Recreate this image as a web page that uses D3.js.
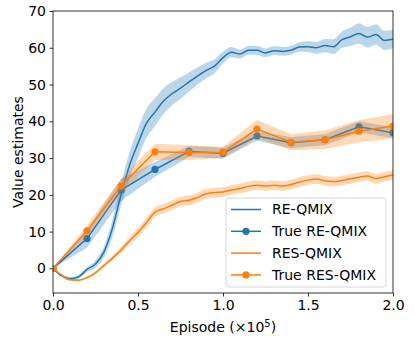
<!DOCTYPE html>
<html>
<head>
<meta charset="utf-8">
<script src="https://cdn.jsdelivr.net/npm/d3@7"></script>
<style>
  body { margin: 0; background: #fff; }
  text { font-family: "DejaVu Sans", sans-serif; }
</style>
</head>
<body>
<div id="chart"></div>
<script>
// episodes (x 10^5) for the smoothed curves
const episodes = [0.00,0.05,0.10,0.15,0.20,0.25,0.30,0.35,0.40,0.45,0.50,0.55,0.60,0.65,0.70,0.75,0.80,0.85,0.90,0.95,
  1.00,1.05,1.10,1.15,1.20,1.25,1.30,1.35,1.40,1.45,1.50,1.55,1.60,1.65,1.70,1.75,1.80,1.85,1.90,1.95,2.00];

const reQmix = [0,-2.0,-2.8,-2.3,-0.3,1.2,4.5,11,20,28,34,39.5,42.5,45.5,47.5,49,50.7,52.3,53.8,55,
  57.3,58.8,58.3,59.3,59.3,58.6,59.2,59.0,59.3,60.2,60.3,60.0,60.6,60.3,62.2,63.0,63.9,62.9,63.6,62.0,62.3];
const reQmixSd = [0,0.4,0.5,0.5,0.6,1.0,1.5,2.3,3,3.6,4,4,3.8,3.5,3.2,2.9,2.6,2.3,2.1,1.9,
  1.6,1.4,1.2,1.2,1.2,1.2,1.2,1.2,1.2,1.3,1.5,1.6,1.8,2.0,2.2,2.5,2.8,2.8,2.8,2.6,2.5];

const resQmix = [0,-1.8,-3.1,-3.2,-2.5,-1.2,0.8,2.8,5.0,7.5,9.8,12.5,15.3,16.2,17.2,18.2,18.5,19.3,20.3,20.6,
  20.8,21.3,21.7,22.3,22.6,22.4,22.6,22.4,22.8,23.5,24.0,24.3,23.8,23.6,23.9,24.4,24.8,25.1,24.4,24.9,25.4];
const resQmixSd = [0,0.2,0.3,0.3,0.3,0.4,0.5,0.6,0.8,1.0,1.2,1.3,1.3,1.3,1.3,1.3,1.3,1.3,1.3,1.3,
  1.3,1.3,1.3,1.3,1.3,1.3,1.3,1.3,1.3,1.3,1.3,1.3,1.3,1.3,1.3,1.3,1.3,1.3,1.3,1.3,1.3];

// evaluation points for the "true" returns
const trueEpisodes = [0,0.2,0.4,0.6,0.8,1.0,1.2,1.4,1.6,1.8,2.0];
const trueReQmix = [0,8.1,21.3,26.9,31.8,31.3,36.0,34.2,35.0,38.5,36.9];
const trueReQmixSd = [0,2.5,3,2,1.5,1.5,1.2,1.5,1.5,1.5,1.5];
const trueResQmix = [0,10.2,22.4,31.7,31.5,31.6,37.9,34.3,35.0,37.3,38.7];
const trueResQmixSd = [0,1.5,2,2.2,2,1.5,2.5,2.2,2.5,3,3.3];

const xTicks = [0, 0.5, 1.0, 1.5, 2.0];
const yTicks = [0, 10, 20, 30, 40, 50, 60, 70];
const seriesNames = ["RE-QMIX", "True RE-QMIX", "RES-QMIX", "True RES-QMIX"];

const blue = "#1f77b4", orange = "#ff7f0e";
const width = 415, height = 346;
const margin = { top: 11, right: 22, bottom: 53, left: 53 };
const fontSize = "14px";

const svg = d3.select("#chart").append("svg")
  .attr("width", width)
  .attr("height", height);

const x = d3.scaleLinear().domain([0, 2]).range([margin.left, width - margin.right]);
const y = d3.scaleLinear().domain([-6.7, 70]).range([height - margin.bottom, margin.top]);

svg.append("clipPath").attr("id", "plot")
  .append("rect")
  .attr("x", margin.left).attr("y", margin.top)
  .attr("width", width - margin.left - margin.right)
  .attr("height", height - margin.top - margin.bottom);

const plot = svg.append("g").attr("clip-path", "url(#plot)");

function band(xs, vals, sds, color, curve) {
  const pts = xs.map((d, i) => ({ x: d, v: vals[i], s: sds[i] }));
  plot.append("path")
    .datum(pts)
    .attr("fill", color)
    .attr("fill-opacity", 0.3)
    .attr("d", d3.area().curve(curve).x(d => x(d.x)).y0(d => y(d.v - d.s)).y1(d => y(d.v + d.s)));
  plot.append("path")
    .datum(pts)
    .attr("fill", "none")
    .attr("stroke", color)
    .attr("stroke-width", 1.5)
    .attr("d", d3.line().curve(curve).x(d => x(d.x)).y(d => y(d.v)));
  return pts;
}

function dots(pts, color) {
  plot.selectAll(null)
    .data(pts)
    .enter()
    .append("circle")
    .attr("cx", d => x(d.x))
    .attr("cy", d => y(d.v))
    .attr("r", 3.6)
    .attr("fill", color);
}

band(episodes, reQmix, reQmixSd, blue, d3.curveMonotoneX);
dots(band(trueEpisodes, trueReQmix, trueReQmixSd, blue, d3.curveLinear), blue);
band(episodes, resQmix, resQmixSd, orange, d3.curveMonotoneX);
dots(band(trueEpisodes, trueResQmix, trueResQmixSd, orange, d3.curveLinear), orange);

// axes
const xAxis = svg.append("g")
  .attr("transform", `translate(0,${height - margin.bottom})`)
  .call(d3.axisBottom(x).tickValues(xTicks).tickFormat(d3.format(".1f")).tickSize(3.5).tickPadding(3.5));
const yAxis = svg.append("g")
  .attr("transform", `translate(${margin.left},0)`)
  .call(d3.axisLeft(y).tickValues(yTicks).tickSize(3.5).tickPadding(3.5));

[xAxis, yAxis].forEach(a => {
  a.select(".domain").remove();
  a.selectAll("line").attr("stroke", "#000").attr("stroke-width", 0.8);
  a.selectAll("text")
    .attr("fill", "#000")
    .style("font-family", "DejaVu Sans")
    .style("font-size", fontSize);
});

// frame
svg.append("rect")
  .attr("x", margin.left).attr("y", margin.top)
  .attr("width", width - margin.left - margin.right)
  .attr("height", height - margin.top - margin.bottom)
  .attr("fill", "none")
  .attr("stroke", "#000")
  .attr("stroke-width", 0.8);

// axis labels
const xl = svg.append("text")
  .attr("x", x(1))
  .attr("y", 332)
  .attr("text-anchor", "middle")
  .style("font-size", fontSize);
xl.append("tspan").text("Episode (×10");
xl.append("tspan").attr("dy", -5).style("font-size", "10px").text("5");
xl.append("tspan").attr("dy", 5).text(")");

svg.append("text")
  .attr("transform", `translate(23,${(margin.top + height - margin.bottom) / 2}) rotate(-90)`)
  .attr("text-anchor", "middle")
  .style("font-size", fontSize)
  .text("Value estimates");

// legend
const legend = svg.append("g").attr("transform", "translate(226,198)");
legend.append("rect")
  .attr("width", 160).attr("height", 89)
  .attr("rx", 3)
  .attr("fill", "#fff").attr("fill-opacity", 0.8)
  .attr("stroke", "#cccccc").attr("stroke-width", 0.8);

seriesNames.forEach((name, i) => {
  const color = i < 2 ? blue : orange;
  const g = legend.append("g").attr("transform", `translate(0,${11.5 + i * 21.8})`);
  g.append("line")
    .attr("x1", 5).attr("x2", 35)
    .attr("stroke", color).attr("stroke-width", 1.5);
  if (i % 2 === 1) {
    g.append("circle").attr("cx", 20).attr("r", 3.6).attr("fill", color);
  }
  g.append("text")
    .attr("x", 46)
    .attr("dy", "0.35em")
    .style("font-size", fontSize)
    .text(name);
});
</script>
</body>
</html>
